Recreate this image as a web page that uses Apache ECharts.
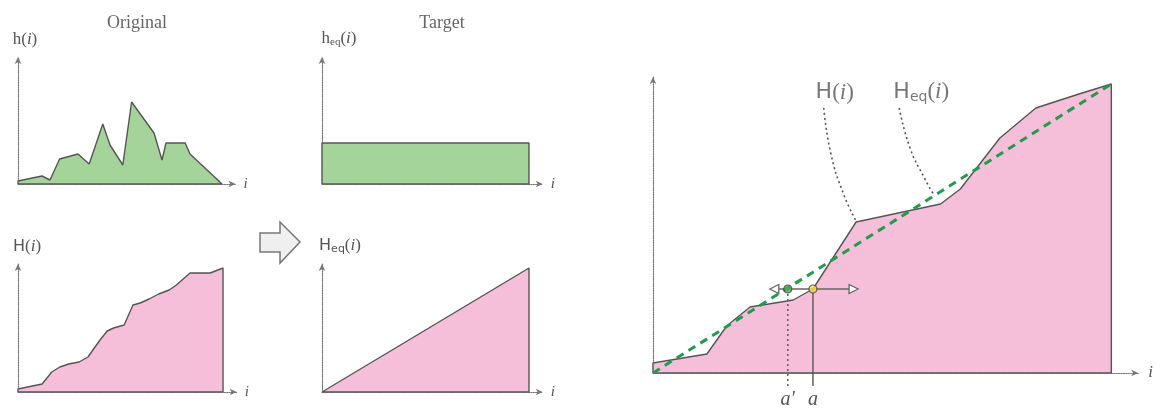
<!DOCTYPE html>
<html><head><meta charset="utf-8">
<script src="https://cdn.jsdelivr.net/npm/echarts@6/dist/echarts.min.js"></script>
<style>html,body{margin:0;padding:0;background:#fff}#c{width:1156px;height:410px}</style>
</head><body><div id="c"></div>
<script>
// ---- data ----
const titles = ['Original', 'Target'];
// h(i): histogram of the original image
const hI = [0, 30, 40, 52, 75, 89, 106, 115, 131, 142, 170, 180, 185, 209, 215, 255];
const hV = [3, 8, 4, 25, 30, 20, 60, 39, 19, 82, 51, 24, 41, 41, 30, 0];
// h_eq(i): flat target histogram
const hEqLevel = 41;
// H(i): cumulative histogram (small panel)
const cumI = [0, 30, 42, 52, 63, 76, 87, 102, 111, 119, 132, 143, 152, 163, 175, 188, 197, 214, 239, 255];
const cumV = [3, 8, 20, 25, 28, 30, 35, 52, 61, 64, 67, 87, 89, 93, 98, 102, 107, 119, 119, 124];
// H_eq(i): linear target cumulative
const cumEqEnd = 124;
// big panel: H(i) and H_eq(i)
const bigI = [0, 30, 41, 54, 78, 89, 99, 113, 160, 171, 193, 213, 237, 255];
const bigV = [10, 19, 47, 66, 73, 84, 112, 151, 169, 184, 235, 265, 279, 289];
const bigEqEnd = 289;
// mapping a -> a'
const aValues = [75, 89];
const aLabels = ['a′', 'a'];
const aLevel = 84;
const arrowSpan = [67.5, 111.6];
const dropTo = -13;
// leader curves for the labels
const leaderH = [[95, 265], [99, 219], [106, 179], [113, 152]];
const leaderHeq = [[137, 265], [143, 225], [151, 195], [156, 179]];
const curveLabels = ['{s|H}{r|(}{it|i}{r|)}', '{s|H}{sub|eq}{r|(}{it|i}{r|)}'];
const axisNames = ['{r|h(}{it|i}{r|)}', '{r|h}{subr|eq}{r|(}{it|i}{r|)}', '{s|H}{r|(}{it|i}{r|)}', '{s|H}{sub|eq}{r|(}{it|i}{r|)}'];

// ---- styles ----
const GREEN = '#a5d49b', PINK = '#f6bfd9', EDGE = '#555', DASH = '#1f9d4c';
const TXT = '#555';
function richSet(sz) {
  return {
    r: { fontFamily: 'Liberation Serif', fontSize: sz, color: TXT },
    it: { fontFamily: 'Liberation Serif', fontStyle: 'italic', fontSize: sz, color: TXT },
    s: { fontFamily: 'DejaVu Sans', fontSize: sz - 1, color: TXT },
    sub: { fontFamily: 'DejaVu Sans', fontSize: Math.round(sz * 0.62), color: TXT, padding: [Math.round(sz * 0.45), 0, 0, 0] },
    subr: { fontFamily: 'Liberation Serif', fontSize: Math.round(sz * 0.66), color: TXT, padding: [Math.round(sz * 0.45), 0, 0, 0] }
  };
}
function axLine() {
  return { show: true, onZero: true, symbol: ['none', 'arrow'], symbolSize: [5, 7],
    lineStyle: { color: '#777', type: 'dotted', width: 1.2 } };
}
const grids = [
  { left: 18, top: 57, width: 217.6, height: 127, ymax: 127, xmax: 272 },
  { left: 322, top: 57, width: 220.8, height: 127, ymax: 127, xmax: 272 },
  { left: 18, top: 264, width: 218.7, height: 128, ymax: 128, xmax: 272 },
  { left: 322, top: 264, width: 220.8, height: 128, ymax: 128, xmax: 272 },
  { left: 653, top: 77, width: 487, height: 296, ymax: 296, xmax: 270 }
];
const nameShift = [14, 34, 18, 36];
const labelShift = [[11, 0], [22, 0]];

const xAxis = grids.map((g, k) => ({
  gridIndex: k, type: 'value', min: 0, max: g.xmax,
  axisLine: axLine(), axisTick: { show: false }, splitLine: { show: false },
  axisLabel: k === 4 ? {
    show: true, customValues: aValues, margin: 17,
    formatter: v => aLabels[aValues.indexOf(v)],
    fontFamily: 'Liberation Serif', fontStyle: 'italic', fontSize: 20, color: TXT
  } : { show: false },
  name: '{it|i}', nameLocation: 'end', nameGap: k === 4 ? 10 : 8,
  nameTextStyle: { rich: richSet(k === 4 ? 17 : 15) }
}));
const yAxis = grids.map((g, k) => ({
  gridIndex: k, type: 'value', min: 0, max: g.ymax,
  axisLine: axLine(), axisTick: { show: false }, splitLine: { show: false }, axisLabel: { show: false },
  name: k < 4 ? axisNames[k] : '', nameLocation: 'end', nameGap: 9,
  nameTextStyle: { align: 'center', padding: [0, 0, 0, k < 4 ? nameShift[k] : 0], rich: richSet(17) }
}));

function zip(a, b) { return a.map((x, i) => [x, b[i]]); }
function shape(pts, lastI) {
  return [[0, 0]].concat(pts, [[lastI, 0], [0, 0]]);
}
function area(k, data, fill) {
  return { type: 'line', xAxisIndex: k, yAxisIndex: k, data, symbol: 'none', z: 3,
    lineStyle: { color: EDGE, width: 1.4 }, areaStyle: { color: fill, opacity: 1 } };
}

const series = [
  area(0, shape(zip(hI, hV), 255), GREEN),
  area(1, shape([[0, hEqLevel], [255, hEqLevel]], 255), GREEN),
  area(2, shape(zip(cumI, cumV), 255), PINK),
  area(3, shape([[0, 0], [255, cumEqEnd]], 255), PINK),
  area(4, shape(zip(bigI, bigV), 255), PINK),
  { type: 'line', xAxisIndex: 4, yAxisIndex: 4, data: [[0, 0], [255, bigEqEnd]], symbol: 'none', z: 5,
    lineStyle: { color: DASH, width: 3, type: [8, 6] } },
  // vertical drop lines
  { type: 'line', xAxisIndex: 4, yAxisIndex: 4, clip: false, symbol: 'none', z: 6,
    data: [[aValues[1], aLevel], [aValues[1], dropTo]], lineStyle: { color: '#555', width: 1.4 } },
  { type: 'line', xAxisIndex: 4, yAxisIndex: 4, clip: false, symbol: 'none', z: 6,
    data: [[aValues[0], aLevel], [aValues[0], dropTo]], lineStyle: { color: '#666', width: 1.6, type: [2, 3] } },
  // horizontal double arrow
  { type: 'line', xAxisIndex: 4, yAxisIndex: 4, z: 7, symbolSize: 9,
    data: [
      { value: [arrowSpan[0], aLevel], symbol: 'triangle', symbolRotate: 90 },
      { value: [arrowSpan[1], aLevel], symbol: 'triangle', symbolRotate: -90 }
    ],
    itemStyle: { color: '#fff', borderColor: '#666', borderWidth: 1.3 },
    lineStyle: { color: '#666', width: 1.4 } },
  // points a' and a
  { type: 'scatter', xAxisIndex: 4, yAxisIndex: 4, z: 8, symbolSize: 8,
    data: [
      { value: [aValues[0], aLevel], itemStyle: { color: '#4caf50' } },
      { value: [aValues[1], aLevel], itemStyle: { color: '#f2e44a' } }
    ],
    itemStyle: { borderColor: '#444', borderWidth: 1.2 } },
  // leader curves
  { type: 'line', xAxisIndex: 4, yAxisIndex: 4, z: 6, smooth: true, symbol: 'none', data: leaderH,
    lineStyle: { color: '#555', width: 1.6, type: [2, 3] } },
  { type: 'line', xAxisIndex: 4, yAxisIndex: 4, z: 6, smooth: true, symbol: 'none', data: leaderHeq,
    lineStyle: { color: '#555', width: 1.6, type: [2, 3] } },
  { type: 'scatter', xAxisIndex: 4, yAxisIndex: 4, z: 6, symbolSize: 2,
    itemStyle: { color: 'rgba(255,255,255,0)' },
    data: [leaderH[0], leaderHeq[0]].map((p, i) => ({ value: p, label: {
      show: true, position: 'top', distance: 3, offset: labelShift[i], formatter: curveLabels[i], rich: richSet(23) } })) }
];

const chart = echarts.init(document.getElementById('c'), null, { renderer: 'canvas' });
chart.setOption({
  animation: false,
  backgroundColor: '#fff',
  title: [
    { text: titles[0], left: 132, top: 9, textAlign: 'center',
      textStyle: { fontFamily: 'Liberation Serif', fontSize: 18, fontWeight: 'normal', color: '#666' } },
    { text: titles[1], left: 437, top: 9, textAlign: 'center',
      textStyle: { fontFamily: 'Liberation Serif', fontSize: 18, fontWeight: 'normal', color: '#666' } }
  ],
  grid: grids.map(g => ({ left: g.left, top: g.top, width: g.width, height: g.height })),
  xAxis, yAxis, series,
  graphic: [{
    type: 'polygon', z: 10,
    shape: { points: [[260, 233], [280, 233], [280, 222], [300, 242], [280, 263], [280, 252], [260, 252]] },
    style: { fill: '#efefef', stroke: '#777', lineWidth: 1.5 }
  }]
});
</script></body></html>
